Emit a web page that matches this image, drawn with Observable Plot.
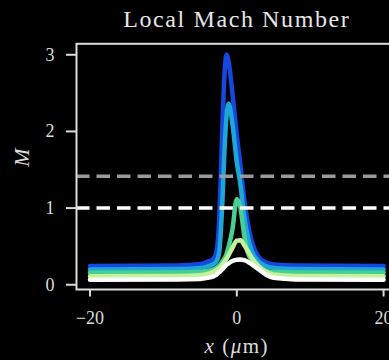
<!DOCTYPE html>
<html>
<head>
<meta charset="utf-8">
<script src="https://cdn.jsdelivr.net/npm/d3@7"></script>
<script src="https://cdn.jsdelivr.net/npm/@observablehq/plot@0.6"></script>
<style>
  html, body { margin: 0; padding: 0; background: #000; overflow: hidden; width: 389px; height: 360px; }
  #chart svg { display: block; }
</style>
</head>
<body>
<div id="chart"></div>
<script>
// ---- data ----
const titleText = "Local Mach Number";
const yLabelText = "M";
const xLabelText = "x (μm)";
const xTicks = [-20, 0, 20];
const yTicks = [0, 1, 2, 3];
const thresholdValues = [1.414, 1];
const thresholdColors = ["#9a9a9a", "#ffffff"];

const xs = [-20, -8, -5, -4, -3.2, -2.8, -2.4, -2.2, -2.0, -1.7, -1.4, -1.1, -0.6, 0, 0.5, 1, 1.5, 2, 3, 4, 5, 8, 20];
const mA = [0.245, 0.25, 0.27, 0.3, 0.34, 0.42, 0.85, 1.35, 1.95, 2.7, 3.0, 2.9, 2.5, 1.95, 1.55, 1.12, 0.8, 0.58, 0.36, 0.29, 0.265, 0.25, 0.245];
const mB = [0.2, 0.205, 0.22, 0.24, 0.27, 0.3, 0.42, 0.65, 1.0, 1.7, 2.2, 2.36, 2.1, 1.6, 1.3, 0.9, 0.62, 0.45, 0.3, 0.24, 0.22, 0.205, 0.2];
const mC = [0.155, 0.16, 0.17, 0.18, 0.2, 0.22, 0.25, 0.27, 0.3, 0.34, 0.4, 0.5, 0.72, 1.12, 1.0, 0.65, 0.42, 0.32, 0.22, 0.18, 0.165, 0.16, 0.155];
const mD = [0.11, 0.115, 0.125, 0.14, 0.17, 0.19, 0.22, 0.24, 0.26, 0.3, 0.34, 0.39, 0.48, 0.575, 0.58, 0.52, 0.44, 0.36, 0.24, 0.17, 0.135, 0.115, 0.11];
const mE = [0.065, 0.068, 0.075, 0.09, 0.11, 0.13, 0.16, 0.18, 0.2, 0.23, 0.26, 0.28, 0.31, 0.325, 0.33, 0.32, 0.3, 0.27, 0.2, 0.13, 0.09, 0.07, 0.065];
const seriesNames = ["A", "B", "C", "D", "E"];
const seriesColors = ["#1448e0", "#1ea6d4", "#48cf92", "#c4f29c", "#ffffff"];

// ---- build table ----
const seriesValues = [mA, mB, mC, mD, mE];
const rows = seriesNames.flatMap((name, i) => xs.map((x, j) => ({series: name, x, m: seriesValues[i][j]})));
const thresholds = thresholdValues.map((v, i) => ({v, c: thresholdColors[i]}));
const fmt = d => d < 0 ? "\u2212" + Math.abs(d) : String(d);

const svg = Plot.plot({
  width: 389,
  height: 360,
  marginLeft: 76,
  marginRight: -7.6,
  marginTop: 43.3,
  marginBottom: 71,
  style: {background: "#000", color: "#dcdcdc", fontFamily: "'Liberation Serif', serif"},
  x: {domain: [-21.84, 21.84]},
  y: {domain: [-0.062, 3.143]},
  color: {domain: seriesNames, range: seriesColors},
  marks: [
    Plot.line(rows, {x: "x", y: "m", z: "series", stroke: "series", strokeWidth: 4.5, curve: "monotone-x", strokeLinecap: "round", strokeLinejoin: "round"}),
    Plot.ruleY(thresholds, {y: "v", stroke: "c", strokeWidth: 3.5, strokeDasharray: "13.5,7"}),
    Plot.frame({stroke: "#dcdcdc", strokeWidth: 2}),
    Plot.axisX(xTicks, {tickSize: 7.5, tickPadding: 14, strokeWidth: 2, fontSize: 18, tickFormat: fmt, label: null}),
    Plot.axisY(yTicks, {tickSize: 10, tickPadding: 12, strokeWidth: 2, fontSize: 18, tickFormat: fmt, label: null}),
    Plot.text([titleText], {text: d => d, frameAnchor: "top", lineAnchor: "bottom", dy: -16.6, fontSize: 24, fill: "#e6e6e6"}),
    Plot.text([yLabelText], {text: d => d, frameAnchor: "left", dx: -54.3, rotate: -90, fontSize: 22, fontStyle: "italic", fill: "#dcdcdc"}),
    Plot.text([xLabelText], {text: d => d, frameAnchor: "bottom", lineAnchor: "bottom", dy: 63, fontSize: 21, fill: "#dcdcdc"})
  ]
});

d3.select(svg).selectAll("text").each(function() {
  const t = d3.select(this);
  const s = this.textContent;
  if (s === titleText) t.attr("letter-spacing", "1.6px");
  else if (s === xLabelText) {
    t.text(null).attr("letter-spacing", "1.5px");
    t.append("tspan").attr("font-style", "italic").text("x");
    t.append("tspan").text(" (");
    t.append("tspan").attr("font-style", "italic").text("μ");
    t.append("tspan").text("m)");
  }
});

document.getElementById("chart").appendChild(svg);
</script>
</body>
</html>
